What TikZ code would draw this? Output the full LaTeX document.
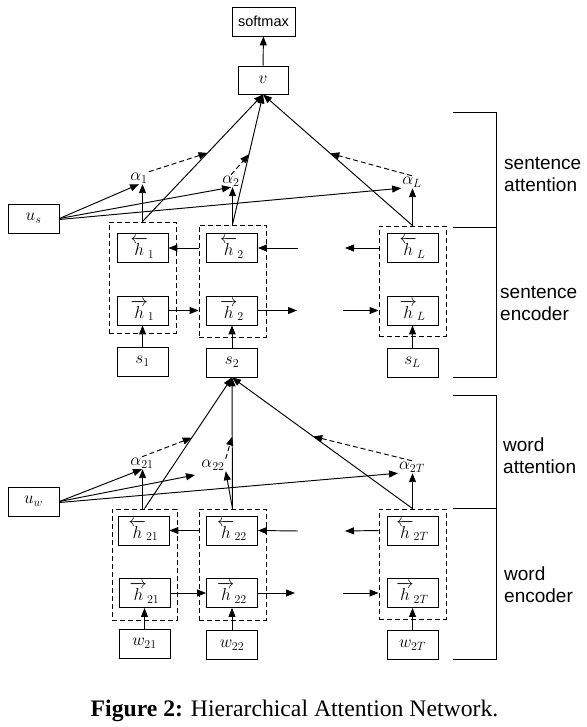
\documentclass[tikz,border=0pt]{standalone}
\usepackage{amsmath}
\usepackage{fontspec}
\setmainfont{Liberation Serif}
\setsansfont{Liberation Sans}
\usetikzlibrary{arrows.meta,calc}
\begin{document}
\begin{tikzpicture}[x=1pt,y=-1pt,
  box/.style={draw, line width=0.9pt, minimum width=51pt, minimum height=29pt, inner sep=0pt, font=\fontsize{16.5}{19}\selectfont},
  grp/.style={draw, dash pattern=on 5pt off 3pt, line width=0.9pt, inner sep=0pt},
  arr/.style={-{Triangle[length=9pt,width=7pt]}, line width=0.95pt},
  ln/.style={line width=0.95pt},
  dsh/.style={arr, dash pattern=on 5pt off 3pt},
  lbl/.style={inner sep=1pt, font=\fontsize{16.5}{19}\selectfont},
  side/.style={font=\sffamily\fontsize{19}{22}\selectfont, align=left, anchor=west, inner sep=0pt}
]
\useasboundingbox (0,0) rectangle (586,727);

% top
\node[box, minimum width=63pt] (sm) at (263.5,21.5) {\sffamily\fontsize{14.5}{17}\selectfont softmax};
\node[box, minimum width=50pt, minimum height=28pt] (v) at (263,80) {$v$};
\node[box] (us) at (33.5,218.5) {$u_s$};
\node[box] (uw) at (33.5,501.5) {$u_w$};

% sentence level groups
\node[grp, minimum width=67pt, minimum height=111pt] (d1) at (142.5,277.5) {};
\node[grp, minimum width=67pt, minimum height=112pt] (d2) at (232.5,281) {};
\node[grp, minimum width=67pt, minimum height=110pt] (dL) at (412.5,281) {};
\node[box] (hb1) at (142.5,248) {$\overleftarrow{h}_1$};
\node[box] (hf1) at (142.5,310.5) {$\overrightarrow{h}_1$};
\node[box] (s1) at (142.5,361.5) {$s_1$};
\node[box] (hb2) at (232,248) {$\overleftarrow{h}_2$};
\node[box] (hf2) at (232,310.5) {$\overrightarrow{h}_2$};
\node[box] (s2) at (232,362.5) {$s_2$};
\node[box] (hbL) at (412.5,248) {$\overleftarrow{h}_L$};
\node[box] (hfL) at (412.5,310.5) {$\overrightarrow{h}_L$};
\node[box] (sL) at (412.5,362.5) {$s_L$};

% word level groups
\node[grp, minimum width=65pt, minimum height=111pt] (d21) at (144.5,564.5) {};
\node[grp, minimum width=67pt, minimum height=111pt] (d22) at (232.5,564.5) {};
\node[grp, minimum width=67pt, minimum height=110pt] (d2T) at (412.5,564) {};
\node[box] (hb21) at (143.5,530.5) {$\overleftarrow{h}_{21}$};
\node[box] (hf21) at (144.5,593) {$\overrightarrow{h}_{21}$};
\node[box] (w21) at (144.5,643.5) {$w_{21}$};
\node[box] (hb22) at (232,530.5) {$\overleftarrow{h}_{22}$};
\node[box] (hf22) at (232,593) {$\overrightarrow{h}_{22}$};
\node[box] (w22) at (232,645) {$w_{22}$};
\node[box] (hb2T) at (412.5,530.5) {$\overleftarrow{h}_{2T}$};
\node[box] (hf2T) at (412.5,593) {$\overrightarrow{h}_{2T}$};
\node[box] (w2T) at (412.5,645) {$w_{2T}$};

% attention labels
\node[lbl] (a1) at (139,178) {$\alpha_1$};
\node[lbl] (a2) at (231,181) {$\alpha_2$};
\node[lbl] (aL) at (412,182) {$\alpha_L$};
\node[lbl] (a21) at (142,463) {$\alpha_{21}$};
\node[lbl] (a22) at (213,465) {$\alpha_{22}$};
\node[lbl] (a2T) at (412,467) {$\alpha_{2T}$};

% free ends
\coordinate (fr1) at (297,310.5);
\coordinate (fr2) at (343,310.5);
\coordinate (bk1) at (298,248);
\coordinate (bk2) at (345,248);
\coordinate (wfr1) at (295,593);
\coordinate (wfr2) at (343,593);
\coordinate (wbk1) at (298,531);
\coordinate (wbk2) at (345,531);
\coordinate (uwx) at (195,475);

% sentence connectors
\draw[arr] (v) -- (sm);
\draw[arr] (d1.north) -- (v.south);
\draw[arr] (d2.north) -- (v.south);
\draw[arr] (dL.north) -- (v.south);
\path (d1.north) -- (v.south) coordinate[pos=0.54] (m1);
\path (d2.north) -- (v.south) coordinate[pos=0.54] (m2);
\path (dL.north) -- (v.south) coordinate[pos=0.55] (mL);
\draw[arr] (d1.north) -- (d1.north |- a1.south);
\draw[arr] (d2.north) -- (d2.north |- a2.south);
\draw[arr] (dL.north) -- (dL.north |- aL.south);
\draw[dsh] (a1.north east) -- (m1);
\draw[dsh] (a2.north) -- (m2);
\draw[dsh] (aL.north) -- (mL);
\draw[arr] (us.east) -- (a1.south);
\draw[arr] (us.east) -- (a2.south);
\draw[arr] ([yshift=-1pt]us.east) -- (aL.south west);
\draw[arr] (s1) -- (hf1);
\draw[arr] (s2) -- (hf2);
\draw[arr] (sL) -- (hfL);
\draw[arr] (hf1.east) -- (d2.west |- hf1);
\draw[arr] (hf2.east) -- (fr1);
\draw[arr] (fr2) -- (dL.west |- hfL);
\draw[arr] (d2.west |- hb2) -- (hb1.east);
\draw[arr] (bk1) -- (hb2.east);
\draw[arr] (dL.west |- hbL) -- (bk2);

% word connectors
\draw[arr] (d21.north) -- (s2.south);
\draw[arr] (d22.north) -- (s2.south);
\draw[arr] (d2T.north) -- (s2.south);
\path (d21.north) -- (s2.south) coordinate[pos=0.54] (n1);
\path (d22.north) -- (s2.south) coordinate[pos=0.55] (n2);
\path (d2T.north) -- (s2.south) coordinate[pos=0.55] (nT);
\draw[arr] ([xshift=-2pt]d21.north) -- ([xshift=-2pt]d21.north |- a21.south);
\draw[arr] (d22.north) -- (a22.south east);
\draw[arr] (d2T.north) -- (d2T.north |- a2T.south);
\draw[dsh] (a21.north) -- (n1);
\draw[dsh] (a22.north east) -- (n2);
\draw[dsh] (a2T.north) -- (nT);
\draw[arr] (uw.east) -- (a21.south);
\draw[arr] (uw.east) -- (uwx);
\draw[arr] ([yshift=-1pt]uw.east) -- (a2T.south west);
\draw[arr] (w21) -- (hf21);
\draw[arr] (w22) -- (hf22);
\draw[arr] (w2T) -- (hf2T);
\draw[arr] (hf21.east) -- (hf22.west);
\draw[arr] (hf22.east) -- (wfr1);
\draw[arr] (wfr2) -- (d2T.west |- hf2T);
\draw[arr] (d22.west |- hb22) -- (hb21.east);
\draw[arr] (wbk1) -- (hb22.east);
\draw[arr] (d2T.west |- hb2T) -- (wbk2);

% brackets
\draw[ln] (453,112) -| (496,377) -- (453,377);
\draw[ln] (453,227) -- (496,227);
\draw[ln] (453,395) -| (496,659) -- (453,659);
\draw[ln] (453,508) -- (496,508);

% side labels
\node[side] (t1) at (504,174) {sentence\\attention};
\node[side] (t2) at (500,303) {sentence\\encoder};
\node[side] (t3) at (503,456) {word\\attention};
\node[side] (t4) at (504,585) {word\\encoder};

% caption
\node[font=\fontsize{23.7}{28}\selectfont, inner sep=0pt] (cap) at (294.5,711) {\textbf{Figure 2:} Hierarchical Attention Network.};
\end{tikzpicture}
\end{document}
